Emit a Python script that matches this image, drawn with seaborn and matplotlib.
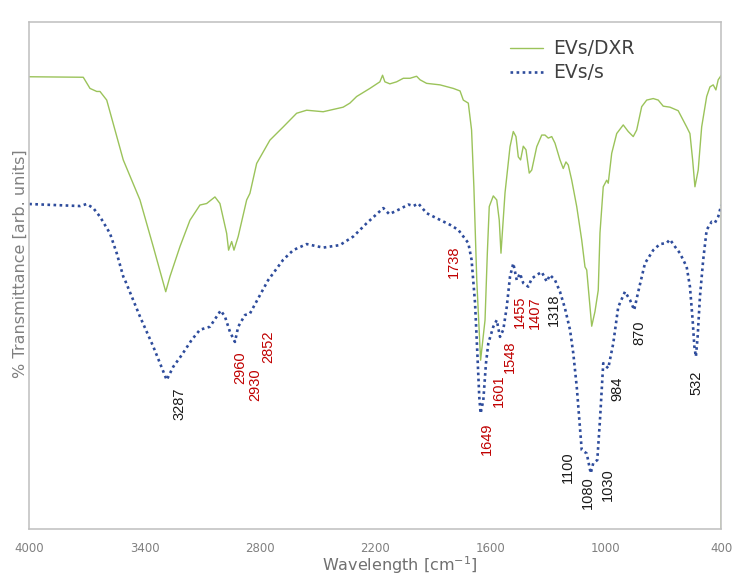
import matplotlib
matplotlib.use('Agg')
import matplotlib.pyplot as plt
import seaborn as sns

# EVs/DXR spectrum (wavenumber in cm-1, transmittance in arb. units)
dxr_wn = [4000, 3719, 3684, 3649, 3632, 3597, 3511, 3424, 3355, 3290,
          3268, 3216, 3164, 3112, 3077, 3034, 3008, 2973, 2963, 2947,
          2935, 2913, 2869, 2852, 2817, 2748, 2679, 2609, 2557, 2471,
          2367, 2332, 2297, 2228, 2176, 2162, 2150, 2124, 2089, 2054,
          2019, 1985, 1967, 1933, 1863, 1794, 1759, 1742, 1716, 1699,
          1687, 1672, 1652, 1629, 1617, 1607, 1586, 1568, 1555, 1546,
          1525, 1499, 1482, 1468, 1456, 1444, 1430, 1416, 1399, 1386,
          1360, 1334, 1317, 1300, 1282, 1265, 1239, 1222, 1208, 1196,
          1178, 1152, 1126, 1109, 1100, 1074, 1057, 1040, 1031, 1014,
          996, 988, 970, 944, 910, 884, 858, 840, 814, 788,
          754, 728, 702, 667, 624, 580, 563, 549, 537, 520,
          502, 476, 459, 442, 428, 416, 400, 400]
dxr_t = [89.2, 89.1, 86.9, 86.3, 86.3, 84.6, 72.8, 64.9, 55.7, 46.8,
         49.8, 55.7, 60.9, 63.9, 64.2, 65.5, 64.2, 58.3, 55.0, 56.7,
         55.0, 57.7, 64.9, 66.2, 72.1, 76.7, 79.3, 82.0, 82.6, 82.3,
         83.2, 84.0, 85.3, 86.9, 88.2, 89.5, 88.2, 87.8, 88.2, 88.9,
         88.9, 89.3, 88.6, 87.9, 87.6, 86.9, 86.4, 84.6, 84.0, 78.7,
         67.5, 49.1, 33.3, 41.2, 54.4, 63.6, 65.7, 64.9, 60.9, 54.4,
         66.3, 75.4, 78.4, 77.4, 73.4, 72.8, 75.5, 74.8, 70.2, 70.8,
         75.4, 77.7, 77.7, 77.1, 77.4, 76.1, 72.8, 71.1, 72.4, 71.8,
         68.8, 63.6, 57.0, 51.7, 51.1, 40.0, 42.9, 47.1, 58.4, 67.5,
         68.8, 68.2, 74.1, 78.0, 79.7, 78.4, 77.4, 78.7, 83.3, 84.6,
         84.9, 84.6, 83.4, 83.2, 82.5, 79.3, 78.0, 72.8, 67.5, 70.8,
         79.3, 85.3, 87.2, 87.6, 86.6, 88.6, 89.5, 0.0]

# EVs/s spectrum
evs_wn = [4000, 3736, 3701, 3667, 3632, 3580, 3545, 3511, 3502, 3424,
          3355, 3285, 3251, 3207, 3155, 3112, 3060, 3004, 2982, 2956,
          2930, 2913, 2878, 2852, 2757, 2679, 2627, 2557, 2471, 2384,
          2314, 2245, 2158, 2127, 2072, 2028, 2002, 1976, 1933, 1881,
          1811, 1768, 1716, 1699, 1681, 1669, 1659, 1652, 1638, 1624,
          1612, 1586, 1568, 1551, 1534, 1516, 1499, 1482, 1464, 1447,
          1430, 1404, 1386, 1360, 1334, 1308, 1291, 1265, 1239, 1213,
          1187, 1170, 1152, 1126, 1100, 1079, 1066, 1045, 1031, 1014,
          988, 962, 936, 901, 875, 853, 832, 797, 754, 719,
          684, 667, 641, 615, 580, 563, 549, 540, 532, 523,
          511, 494, 476, 450, 433, 416, 400]
evs_t = [64.1, 63.7, 64.1, 63.3, 61.6, 58.3, 54.4, 49.8, 49.1, 41.9,
         36.0, 29.4, 32.0, 34.3, 37.3, 39.3, 39.9, 43.1, 41.9, 38.9,
         36.9, 39.9, 42.2, 42.5, 49.1, 53.1, 55.0, 56.2, 55.5, 56.0,
         57.7, 60.3, 63.3, 62.1, 63.1, 64.0, 63.7, 64.2, 62.3, 61.3,
         60.0, 59.0, 56.4, 53.1, 44.6, 34.7, 26.1, 22.8, 25.4, 32.7,
         36.6, 39.9, 41.2, 37.9, 39.3, 43.8, 49.8, 52.4, 49.1, 50.4,
         48.5, 47.8, 49.4, 50.1, 50.7, 48.8, 50.1, 49.1, 46.8, 43.5,
         39.3, 34.7, 28.1, 15.6, 14.9, 11.0, 13.0, 13.6, 21.5, 32.7,
         31.7, 36.6, 43.8, 46.8, 45.2, 43.2, 46.8, 52.4, 55.0, 56.2,
         56.4, 57.1, 55.7, 54.4, 51.7, 47.8, 41.2, 36.0, 34.0, 37.9,
         45.8, 53.1, 59.0, 60.6, 60.4, 61.6, 63.9]

# peak labels and where they sit on the chart
peak_labels = ['3287', '2960', '2930', '2852', '1738', '1649', '1601', '1548',
               '1455', '1407', '1318', '1100', '1080', '1030', '984', '870', '532']
label_x = [3216, 2904, 2826, 2757, 1791, 1620, 1555, 1499,
           1447, 1369, 1270, 1196, 1092, 988, 941, 827, 528]
label_y = [24.7, 31.8, 28.4, 35.9, 52.7, 17.9, 27.2, 33.9,
           42.8, 42.6, 43.2, 12.2, 7.1, 8.7, 27.6, 38.7, 28.8]
label_colors = ['k', 'r', 'r', 'r', 'r', 'r', 'r', 'r',
                'r', 'r', 'k', 'k', 'k', 'k', 'k', 'k', 'k']

x_ticks = [4000, 3400, 2800, 2200, 1600, 1000, 400]

sns.set_style('white')
plt.rcParams['font.family'] = ['DejaVu Sans']

fig, ax = plt.subplots(figsize=(7.5, 5.85), dpi=100)
fig.subplots_adjust(left=0.039, right=0.9617, top=0.9624, bottom=0.0957)

sns.lineplot(x=dxr_wn, y=dxr_t, ax=ax, estimator=None, sort=False,
             color='#9BC35A', linewidth=1.0, label='EVs/DXR')
sns.lineplot(x=evs_wn, y=evs_t, ax=ax, estimator=None, sort=False,
             color='#2E4C9C', linewidth=1.9, linestyle=(0, (1, 1.3)),
             label='EVs/s')

color_map = {'k': '#1a1a1a', 'r': '#C00000'}
for txt, x, y, c in zip(peak_labels, label_x, label_y, label_colors):
    ax.text(x, y, txt, rotation=90, ha='center', va='center',
            color=color_map[c], fontsize=10.5, family='Liberation Sans')

ax.set_xlim(4000, 400)
ax.set_ylim(0, 100)
ax.set_xticks(x_ticks)
ax.set_yticks([])
ax.tick_params(axis='x', length=0, pad=9, labelsize=8.5, labelcolor='#808080')

ax.set_xlabel('Wavelength [cm$^{-1}$]', fontsize=11.5, color='#707070', va='center')
ax.xaxis.set_label_coords(0.536, -0.071)
ax.set_ylabel('% Transmittance [arb. units]', fontsize=11.5, color='#808080',
              va='center')
ax.yaxis.set_label_coords(-0.013, 0.523)

for s in ax.spines.values():
    s.set_color('#BFBFBF')
    s.set_linewidth(1.1)

leg = ax.legend(loc='upper left', bbox_to_anchor=(0.695, 0.966), frameon=False,
                fontsize=13.5, handlelength=1.76, handletextpad=0.53,
                labelspacing=0.28, borderpad=0, borderaxespad=0)
for t in leg.get_texts():
    t.set_color('#404040')

fig.savefig('out.png', dpi=100)
